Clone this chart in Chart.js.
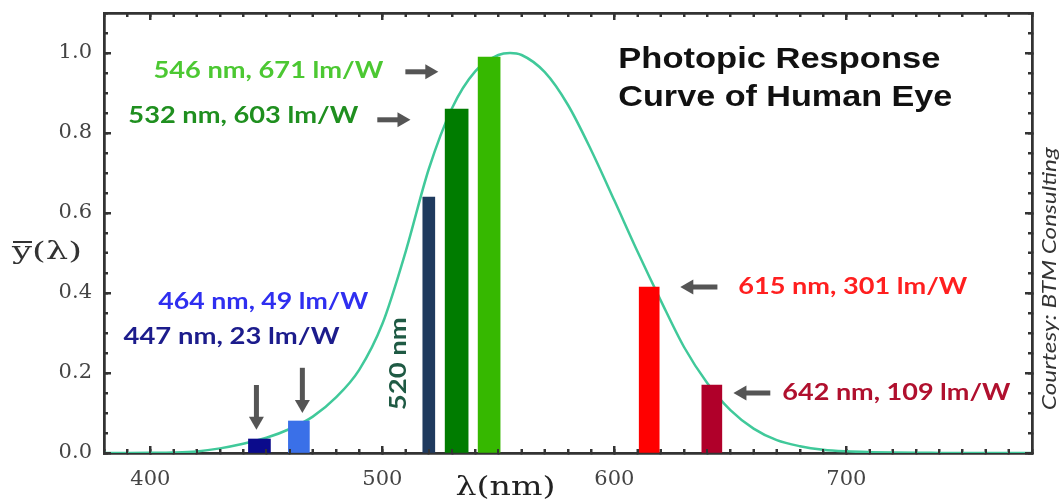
<!DOCTYPE html>
<html>
<head>
<meta charset="utf-8">
<script src="https://cdn.jsdelivr.net/npm/chart.js@4"></script>
<style>
  html, body { margin: 0; padding: 0; background: #fff; }
  canvas { display: block; }
</style>
</head>
<body>
<canvas id="chart" width="1063" height="500"></canvas>
<script>
// photopic curve y(lambda) (10 nm steps, peak at 555)
const curveNm = [380, 390, 400, 410, 420, 430, 440, 450, 460, 470, 480, 490, 500, 510, 520, 530, 540, 550, 555,
                 560, 570, 580, 590, 600, 610, 620, 630, 640, 650, 660, 670, 680, 690, 700, 710, 720, 730, 740,
                 750, 760, 770, 780];
const curveVal = [0.0000, 0.0001, 0.0004, 0.0012, 0.004, 0.0116, 0.023, 0.038, 0.06, 0.091, 0.139, 0.208, 0.323,
                  0.503, 0.71, 0.862, 0.954, 0.995, 1.0, 0.995, 0.952, 0.87, 0.757, 0.631, 0.503, 0.381, 0.265,
                  0.175, 0.107, 0.061, 0.032, 0.017, 0.0082, 0.0041, 0.0021, 0.001, 0.0005, 0.0003, 0.0001,
                  0.0001, 0.0000, 0.0000];

// light sources (bars)
const sourceNm = [447, 464, 520, 532, 546, 615, 642];
const sourceVal = [0.035, 0.08, 0.64, 0.86, 0.99, 0.415, 0.17];
const efficacy = [23, 49, null, 603, 671, 301, 109];   // lm/W

// tick labels
const xTickVals = [400, 500, 600, 700];
const yTickVals = [0.0, 0.2, 0.4, 0.6, 0.8, 1.0];

// styles
const barColors = ['#0b0b8c', '#3a70e8', '#1f3a5e', '#007c00', '#36b800', '#ff0000', '#b0002a'];
const barWidths = [22, 21, 12, 23, 22, 20, 20];
const textColors = ['#1c1c8c', '#2f2ff0', '#1f5a44', '#1f8f1f', '#4cc832', '#ff1f1f', '#b0102e'];
const curveColor = '#40c99a';
const frameColor = '#333333';

// inward tick length per scale
const tickLen = { x: 7, xMinor: 4, xTop: 7, xTopMinor: 4, y: 7, yMinor: 4, yRight: 7, yRightMinor: 4 };

// where the notes sit (data units), with arrow tail -> tip
const notes = [
  { i: 0, nm: 388.4, v: 0.290, w: 216, arrow: [445.7, 0.170, 445.7, 0.058] },
  { i: 1, nm: 403.4, v: 0.378, w: 210, arrow: [465.5, 0.213, 465.5, 0.100] },
  { i: 3, nm: 390.5, v: 0.843, w: 230, arrow: [497.8, 0.833, 512.1, 0.833] },
  { i: 4, nm: 401.3, v: 0.957, w: 230, arrow: [509.9, 0.953, 524.1, 0.953] },
  { i: 5, nm: 653.4, v: 0.415, w: 229, arrow: [644.4, 0.415, 628.4, 0.415] },
  { i: 6, nm: 672.4, v: 0.150, w: 228, arrow: [667.2, 0.150, 651.3, 0.150] }
];

const X_MIN = 380, X_MAX = 780, Y_MIN = 0, Y_MAX = 1.1;

// text squeezed/stretched to a given width
function fitText(ctx, text, x, y, width, font, color, rot) {
  ctx.save();
  ctx.font = font;
  const sx = width / ctx.measureText(text).width;
  ctx.translate(x, y);
  if (rot) ctx.rotate(rot);
  ctx.scale(sx, 1);
  ctx.fillStyle = color;
  ctx.textAlign = 'left';
  ctx.textBaseline = 'middle';
  ctx.fillText(text, 0, 0);
  ctx.restore();
}

function drawArrow(ctx, x1, y1, x2, y2) {
  const ang = Math.atan2(y2 - y1, x2 - x1);
  const len = Math.hypot(x2 - x1, y2 - y1);
  const head = 13, half = 7.5, shaft = 5;
  ctx.save();
  ctx.translate(x2, y2);
  ctx.rotate(ang);
  ctx.fillStyle = '#555555';
  ctx.fillRect(-len, -shaft / 2, len - head + 1, shaft);
  ctx.beginPath();
  ctx.moveTo(0, 0);
  ctx.lineTo(-head, -half);
  ctx.lineTo(-head, half);
  ctx.closePath();
  ctx.fill();
  ctx.restore();
}

// tick marks pointing into the plot, taken from each scale's own ticks
function drawInwardTicks(chart) {
  const ctx = chart.ctx;
  const area = chart.chartArea;
  ctx.save();
  ctx.globalCompositeOperation = 'source-over';
  ctx.globalAlpha = 1;
  ctx.setLineDash([]);
  ctx.strokeStyle = frameColor;
  ctx.lineWidth = 2;
  Object.keys(tickLen).forEach(id => {
    const s = chart.scales[id];
    if (!s) return;
    const len = tickLen[id];
    s.ticks.forEach(t => {
      const p = Math.round(s.getPixelForValue(t.value));
      ctx.beginPath();
      if (s.position === 'bottom') { ctx.moveTo(p, area.bottom); ctx.lineTo(p, area.bottom - len); }
      else if (s.position === 'top') { ctx.moveTo(p, area.top); ctx.lineTo(p, area.top + len); }
      else if (s.position === 'left') { ctx.moveTo(area.left, p); ctx.lineTo(area.left + len, p); }
      else { ctx.moveTo(area.right, p); ctx.lineTo(area.right - len, p); }
      ctx.stroke();
    });
  });
  ctx.restore();
}

const notesPlugin = {
  id: 'photopicNotes',
  afterDraw(chart) {
    const ctx = chart.ctx;
    const xs = chart.scales.x, ys = chart.scales.y;
    const area = chart.chartArea;
    const noteFont = 'bold 23px Lato';

    notes.forEach(n => {
      const label = sourceNm[n.i] + ' nm, ' + efficacy[n.i] + ' lm/W';
      fitText(ctx, label, xs.getPixelForValue(n.nm), ys.getPixelForValue(n.v), n.w, noteFont, textColors[n.i]);
      const a = n.arrow;
      drawArrow(ctx, xs.getPixelForValue(a[0]), ys.getPixelForValue(a[1]),
                xs.getPixelForValue(a[2]), ys.getPixelForValue(a[3]));
    });

    // vertical "520 nm"
    fitText(ctx, sourceNm[2] + ' nm', xs.getPixelForValue(506.9), ys.getPixelForValue(0.107), 93,
            noteFont, textColors[2], -Math.PI / 2);

    // title
    const titleFont = 'bold 30px "Liberation Sans"';
    fitText(ctx, 'Photopic Response', xs.getPixelForValue(601.7), ys.getPixelForValue(0.9825), 322, titleFont, '#111');
    fitText(ctx, 'Curve of Human Eye', xs.getPixelForValue(601.7), ys.getPixelForValue(0.8875), 334, titleFont, '#111');

    // axis titles
    const yT = ys.getPixelForValue(0.5);
    fitText(ctx, 'y(λ)', area.left - 92, yT, 70, '24px "DejaVu Serif"', '#333');
    ctx.save();
    ctx.font = '24px "DejaVu Serif"';
    const yw = ctx.measureText('y').width * 70 / ctx.measureText('y(λ)').width;
    ctx.strokeStyle = '#333';
    ctx.lineWidth = 2;
    ctx.beginPath();
    ctx.moveTo(area.left - 91, yT - 11);
    ctx.lineTo(area.left - 92 + yw, yT - 11);
    ctx.stroke();
    ctx.restore();
    fitText(ctx, 'λ(nm)', xs.getPixelForValue(531.5), area.bottom + 35, 100, '26px "DejaVu Serif"', '#222');

    // credit
    fitText(ctx, 'Courtesy: BTM Consulting', area.right + 18, ys.getPixelForValue(0.107), 263,
            'italic 19px Lato', '#333', -Math.PI / 2);

    // ticks last, so nothing can sit over them
    drawInwardTicks(chart);
  }
};

// no extra room for half labels, the frame sits where the layout padding says
function noPad(s) {
  s.paddingTop = 0;
  s.paddingBottom = 0;
  s.paddingLeft = 0;
  s.paddingRight = 0;
}

// one axis per side and tick size; ticks point into the plot
function axis(dir, position, step, opts) {
  const isX = dir === 'x';
  const len = tickLen[opts.id];
  return Object.assign({
    type: 'linear',
    axis: dir,
    position: position,
    min: isX ? X_MIN : Y_MIN,
    max: isX ? X_MAX : Y_MAX,
    offset: false,
    grid: { drawOnChartArea: false, drawTicks: true, tickLength: -len, tickWidth: 2, tickColor: frameColor, offset: false },
    border: { display: true, color: frameColor, width: 2.5 },
    ticks: { display: false, stepSize: step, includeBounds: false },
    afterFit: s => { noPad(s); if (isX) s.height = 0; else s.width = 0; }
  }, opts.more || {});
}

const xLabelTicks = s => { s.ticks = xTickVals.map(v => ({ value: v })); };
const yLabelTicks = s => { s.ticks = yTickVals.map(v => ({ value: v })); };

const scales = {
  x: axis('x', 'bottom', 100, { id: 'x', more: {
    weight: 1,
    afterBuildTicks: xLabelTicks,
    ticks: { display: true, padding: 21, color: '#444', font: { family: 'DejaVu Serif', size: 21 } },
    afterFit: s => { noPad(s); s.height = 47; }
  } }),
  xMinor: axis('x', 'bottom', 10, { id: 'xMinor', more: { weight: 0 } }),
  xTop: axis('x', 'top', 100, { id: 'xTop', more: { weight: 1, afterBuildTicks: xLabelTicks } }),
  xTopMinor: axis('x', 'top', 10, { id: 'xTopMinor', more: { weight: 0 } }),
  y: axis('y', 'left', 0.2, { id: 'y', more: {
    weight: 1,
    afterBuildTicks: yLabelTicks,
    ticks: {
      display: true, padding: 19, color: '#444', font: { family: 'DejaVu Serif', size: 21 },
      callback: v => v.toFixed(1)
    },
    afterFit: s => { noPad(s); s.width = 104; }
  } }),
  yMinor: axis('y', 'left', 0.05, { id: 'yMinor', more: { weight: 0 } }),
  yRight: axis('y', 'right', 0.2, { id: 'yRight', more: { weight: 1, afterBuildTicks: yLabelTicks } }),
  yRightMinor: axis('y', 'right', 0.05, { id: 'yRightMinor', more: { weight: 0 } })
};

const datasets = [{
  type: 'line',
  label: 'photopic response',
  data: curveNm.map((nm, i) => ({ x: nm, y: curveVal[i] })),
  borderColor: curveColor,
  borderWidth: 2.5,
  pointRadius: 0,
  cubicInterpolationMode: 'monotone',
  fill: false,
  order: 2,
  xAxisID: 'x',
  yAxisID: 'y'
}];

for (let i = 0; i < sourceNm.length; i++) {
  datasets.push({
    type: 'bar',
    label: sourceNm[i] + ' nm',
    data: [{ x: sourceNm[i], y: sourceVal[i] }],
    backgroundColor: barColors[i],
    barThickness: barWidths[i],
    grouped: false,
    order: 1,
    xAxisID: 'x',
    yAxisID: 'y'
  });
}

const chart = new Chart(document.getElementById('chart'), {
  type: 'bar',
  data: { datasets: datasets },
  options: {
    responsive: false,
    animation: false,
    layout: { padding: { left: 0, right: 31, top: 13, bottom: 0 } },
    plugins: { legend: { display: false }, tooltip: { enabled: false } },
    scales: scales
  },
  plugins: [notesPlugin]
});
</script>
</body>
</html>
